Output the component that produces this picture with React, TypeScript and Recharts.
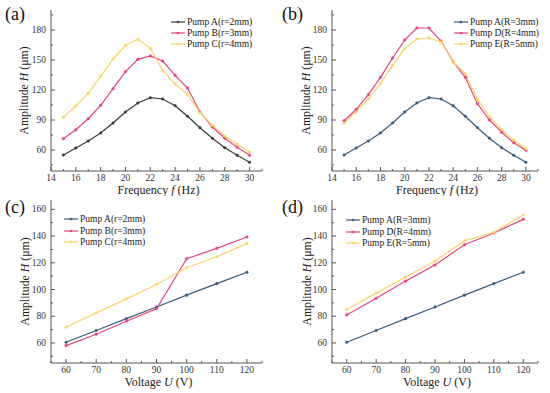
import React from 'react';
import { LineChart, Line, XAxis, YAxis, Legend } from 'recharts';

const FONT = 'Liberation Serif';

// frequency sweep (Hz)
const frequencies = [15, 16, 17, 18, 19, 20, 21, 22, 23, 24, 25, 26, 27, 28, 29, 30];
const freqPumpA = [55, 62, 69, 77, 87, 98, 107, 112.3, 111, 104.3, 93.7, 82.3, 71.7, 62.3, 54.7, 47.7];
const freqPumpB = [71.3, 80.3, 91.3, 104.7, 121.3, 138.3, 150.7, 154, 149, 134.7, 122, 98, 83, 71.7, 62.7, 54.7];
const freqPumpC = [92.7, 104, 116.7, 133.7, 151, 164.7, 170.7, 161.7, 139.7, 126, 115.7, 97.3, 84.7, 74, 65.7, 58];
const freqPumpD = [89.3, 100.7, 115.3, 132.7, 152, 170, 182, 182, 169, 148.3, 132.7, 106.3, 90, 77.7, 67.3, 59.7];
const freqPumpE = [86.7, 98.3, 111, 126.3, 144.7, 161.3, 171, 172, 168, 148, 136.3, 110.7, 93.3, 80.3, 69.7, 61.3];

// voltage sweep (V)
const voltages = [60, 70, 80, 90, 100, 110, 120];
const voltPumpA = [60.5, 69.3, 78.2, 86.9, 95.8, 104.4, 112.9];
const voltPumpB = [58, 66.5, 76.3, 85.5, 123, 130.8, 139.3];
const voltPumpC = [71.8, 82.5, 93, 103.8, 116.3, 124.5, 134.5];
const voltPumpD = [81, 93.5, 106.3, 118.3, 133.5, 142.3, 152.5];
const voltPumpE = [85, 97.3, 109.3, 121.3, 136.5, 142.8, 155.8];

const freqTicks = [14, 15, 16, 17, 18, 19, 20, 21, 22, 23, 24, 25, 26, 27, 28, 29, 30, 31];
const freqLabels = [14, 16, 18, 20, 22, 24, 26, 28, 30];
const freqYTicks = [45, 60, 75, 90, 105, 120, 135, 150, 165, 180, 195];
const freqYLabels = [60, 90, 120, 150, 180];
const voltTicks = [55, 60, 65, 70, 75, 80, 85, 90, 95, 100, 105, 110, 115, 120, 125];
const voltLabels = [60, 70, 80, 90, 100, 110, 120];
const voltYTicks = [50, 60, 70, 80, 90, 100, 110, 120, 130, 140, 150, 160];
const voltYLabels = [60, 80, 100, 120, 140, 160];

const GRAY = '#3c3c3c';
const BLUE = '#3d5c7c';
const PINK = '#e6457c';
const YELLOW = '#f9d46c';
const AXIS = '#555';

const freqRows = frequencies.map((f, i) => ({
  x: f,
  a: freqPumpA[i],
  b: freqPumpB[i],
  c: freqPumpC[i],
  d: freqPumpD[i],
  e: freqPumpE[i],
}));

const voltRows = voltages.map((u, i) => ({
  x: u,
  a: voltPumpA[i],
  b: voltPumpB[i],
  c: voltPumpC[i],
  d: voltPumpD[i],
  e: voltPumpE[i],
}));

interface Series {
  key: string;
  name: string;
  color: string;
}

interface PanelProps {
  tag: string;
  left: number;
  top: number;
  height: number;
  marginTop: number;
  marginRight: number;
  xAxisHeight: number;
  yAxisWidth: number;
  rows: any[];
  series: Series[];
  xDomain: [number, number];
  yDomain: [number, number];
  xTicks: number[];
  xLabels: number[];
  yTicks: number[];
  yLabels: number[];
  xTitle: [string, string, string];
  yLabelX: number;
  legendLeft: number;
  legendTop: number;
  legendRow: number;
}

const makeXTick = (labels: number[]) => (props: any) => {
  const { x, y, payload } = props;
  const major = labels.includes(payload.value);
  return (
    <g>
      <line x1={x} x2={x} y1={y} y2={y - (major ? 4 : 2)} stroke={AXIS} strokeWidth={1} />
      {major && (
        <text x={x} y={y + 7} textAnchor="middle" dominantBaseline="central" fontSize={9.5} fill="#333" style={{ fontFamily: FONT }}>
          {payload.value}
        </text>
      )}
    </g>
  );
};

const makeYTick = (labels: number[]) => (props: any) => {
  const { x, y, payload } = props;
  const major = labels.includes(payload.value);
  return (
    <g>
      <line x1={x} x2={x + (major ? 4 : 2)} y1={y} y2={y} stroke={AXIS} strokeWidth={1} />
      {major && (
        <text x={x - 5} y={y} textAnchor="end" dominantBaseline="central" fontSize={9.5} fill="#333" style={{ fontFamily: FONT }}>
          {payload.value}
        </text>
      )}
    </g>
  );
};

const LegendBox = ({ payload, row }: any) => (
  <div style={{ fontFamily: FONT, fontSize: 9.5, color: '#222' }}>
    {(payload || []).map((p: any) => (
      <div key={p.value} style={{ display: 'flex', alignItems: 'center', height: row, whiteSpace: 'nowrap' }}>
        <svg width={14} height={6} style={{ marginRight: 2 }}>
          <line x1={0} x2={14} y1={3} y2={3} stroke={p.color} strokeWidth={1.2} />
          <circle cx={7} cy={3} r={1.3} fill={p.color} />
        </svg>
        <span>{p.value}</span>
      </div>
    ))}
  </div>
);

function Panel(p: PanelProps) {
  const width = 275;
  return (
    <div style={{ position: 'absolute', left: p.left, top: p.top, width, height: p.height, fontFamily: FONT }}>
      <LineChart
        width={width}
        height={p.height}
        data={p.rows}
        margin={{ top: p.marginTop, right: p.marginRight, left: 0, bottom: 0 }}
      >
        <XAxis
          dataKey="x"
          type="number"
          domain={p.xDomain}
          ticks={p.xTicks}
          interval={0}
          allowDataOverflow
          axisLine={{ stroke: AXIS }}
          tickLine={false}
          tickSize={0}
          tickMargin={0}
          height={p.xAxisHeight}
          tick={makeXTick(p.xLabels)}
          label={(lp: any) => {
            const vb = lp.viewBox;
            return (
              <text
                x={vb.x + vb.width / 2 + 2}
                y={vb.y + 19}
                textAnchor="middle"
                dominantBaseline="central"
                fontSize={12}
                fill="#222"
                style={{ fontFamily: FONT }}
              >
                {p.xTitle[0]}
                <tspan fontStyle="italic">{p.xTitle[1]}</tspan>
                {p.xTitle[2]}
              </text>
            );
          }}
        />
        <XAxis
          xAxisId="top"
          orientation="top"
          dataKey="x"
          type="number"
          domain={p.xDomain}
          allowDataOverflow
          axisLine={{ stroke: AXIS }}
          tick={false}
          tickLine={false}
          height={0}
        />
        <YAxis
          type="number"
          domain={p.yDomain}
          ticks={p.yTicks}
          interval={0}
          allowDataOverflow
          width={p.yAxisWidth}
          axisLine={{ stroke: AXIS }}
          tickLine={false}
          tickSize={0}
          tickMargin={0}
          tick={makeYTick(p.yLabels)}
          label={(lp: any) => {
            const vb = lp.viewBox;
            const cx = p.yLabelX;
            const cy = vb.y + vb.height / 2;
            return (
              <text
                x={cx}
                y={cy}
                textAnchor="middle"
                dominantBaseline="central"
                fontSize={11.8}
                fill="#222"
                style={{ fontFamily: FONT }}
                transform={`rotate(-90 ${cx} ${cy})`}
              >
                Amplitude <tspan fontStyle="italic">H</tspan> (μm)
              </text>
            );
          }}
        />
        <YAxis
          yAxisId="right"
          orientation="right"
          type="number"
          domain={p.yDomain}
          allowDataOverflow
          axisLine={{ stroke: AXIS }}
          tick={false}
          tickLine={false}
          width={0}
        />
        <Legend
          layout="vertical"
          align="center"
          verticalAlign="middle"
          wrapperStyle={{ left: p.legendLeft, top: p.legendTop, width: 'auto' }}
          content={(lp: any) => <LegendBox payload={lp.payload} row={p.legendRow} />}
        />
        {p.series.map((s) => (
          <Line
            key={s.key}
            dataKey={s.key}
            name={s.name}
            stroke={s.color}
            strokeWidth={1.2}
            dot={{ r: 1.3, fill: s.color, stroke: s.color, strokeWidth: 0.5 }}
            activeDot={false}
            isAnimationActive={false}
          />
        ))}
      </LineChart>
      <div
        style={{
          position: 'absolute',
          left: p.tag === '(a)' || p.tag === '(c)' ? 5 : 7,
          top: p.tag === '(a)' || p.tag === '(b)' ? 2 : 0,
          fontFamily: FONT,
          fontSize: 18,
          color: '#111',
          lineHeight: '24px',
        }}
      >
        {p.tag}
      </div>
    </div>
  );
}

export default function App() {
  return (
    <div style={{ position: 'absolute', left: 0, top: 0, width: 550, height: 393, background: '#fff', overflow: 'hidden' }}>
      <Panel
        tag="(a)"
        left={0}
        top={0}
        height={196}
        marginTop={10}
        marginRight={13}
        xAxisHeight={25}
        yAxisWidth={51}
        rows={freqRows}
        series={[
          { key: 'a', name: 'Pump A(r=2mm)', color: GRAY },
          { key: 'b', name: 'Pump B(r=3mm)', color: PINK },
          { key: 'c', name: 'Pump C(r=4mm)', color: YELLOW },
        ]}
        xDomain={[14, 31]}
        yDomain={[39, 200]}
        xTicks={freqTicks}
        xLabels={freqLabels}
        yTicks={freqYTicks}
        yLabels={freqYLabels}
        xTitle={['Frequency ', 'f', ' (Hz)']}
        yLabelX={24}
        legendLeft={171}
        legendTop={17}
        legendRow={10.7}
      />
      <Panel
        tag="(b)"
        left={275}
        top={0}
        height={196}
        marginTop={10}
        marginRight={12}
        xAxisHeight={25}
        yAxisWidth={57}
        rows={freqRows}
        series={[
          { key: 'a', name: 'Pump A(R=3mm)', color: BLUE },
          { key: 'd', name: 'Pump D(R=4mm)', color: PINK },
          { key: 'e', name: 'Pump E(R=5mm)', color: YELLOW },
        ]}
        xDomain={[14, 31]}
        yDomain={[39, 200]}
        xTicks={freqTicks}
        xLabels={freqLabels}
        yTicks={freqYTicks}
        yLabels={freqYLabels}
        xTitle={['Frequency ', 'f', ' (Hz)']}
        yLabelX={31}
        legendLeft={179}
        legendTop={17}
        legendRow={10.7}
      />
      <Panel
        tag="(c)"
        left={0}
        top={195}
        height={198}
        marginTop={5}
        marginRight={13}
        xAxisHeight={30}
        yAxisWidth={51}
        rows={voltRows}
        series={[
          { key: 'a', name: 'Pump A(r=2mm)', color: BLUE },
          { key: 'b', name: 'Pump B(r=3mm)', color: PINK },
          { key: 'c', name: 'Pump C(r=4mm)', color: YELLOW },
        ]}
        xDomain={[55, 125]}
        yDomain={[45, 167]}
        xTicks={voltTicks}
        xLabels={voltLabels}
        yTicks={voltYTicks}
        yLabels={voltYLabels}
        xTitle={['Voltage ', 'U', ' (V)']}
        yLabelX={25}
        legendLeft={64}
        legendTop={18}
        legendRow={11.8}
      />
      <Panel
        tag="(d)"
        left={275}
        top={195}
        height={198}
        marginTop={5}
        marginRight={12}
        xAxisHeight={30}
        yAxisWidth={57}
        rows={voltRows}
        series={[
          { key: 'a', name: 'Pump A(R=3mm)', color: BLUE },
          { key: 'd', name: 'Pump D(R=4mm)', color: PINK },
          { key: 'e', name: 'Pump E(R=5mm)', color: YELLOW },
        ]}
        xDomain={[55, 125]}
        yDomain={[45, 167]}
        xTicks={voltTicks}
        xLabels={voltLabels}
        yTicks={voltYTicks}
        yLabels={voltYLabels}
        xTitle={['Voltage ', 'U', ' (V)']}
        yLabelX={32}
        legendLeft={71}
        legendTop={19}
        legendRow={11.8}
      />
    </div>
  );
}
